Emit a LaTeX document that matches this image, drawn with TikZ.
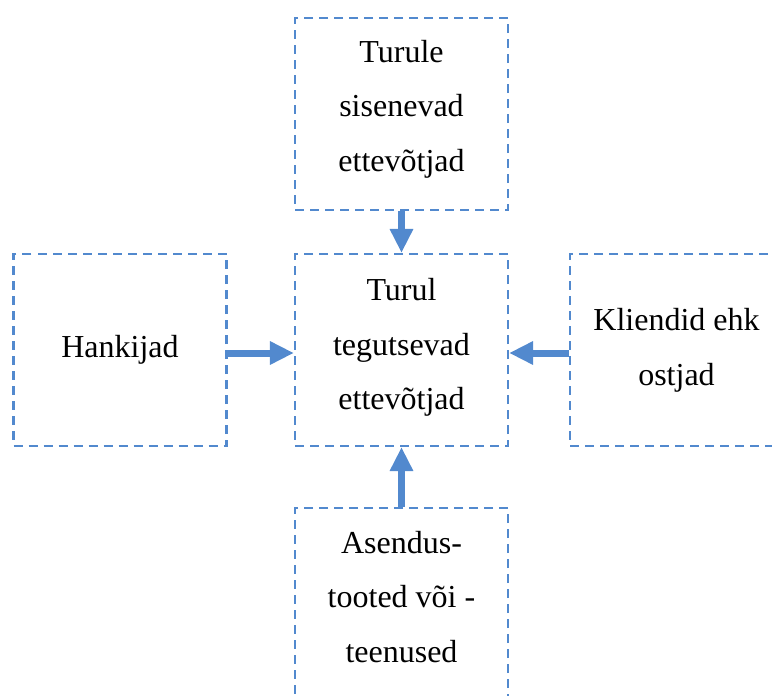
\documentclass[tikz,border=0pt]{standalone}
\usepackage{fontspec}
\setmainfont{Liberation Serif}
\usetikzlibrary{arrows.meta}

\definecolor{boxblue}{RGB}{82,137,206}

\tikzset{
	forcebox/.style={draw=boxblue, line width=1.6pt, dash pattern=on 6.75pt off 4.5pt,
		minimum width=159.75pt, minimum height=144pt, align=center,
		font=\fontsize{24}{41}\selectfont},
	pusharrow/.style={draw=boxblue, line width=5.25pt,
		-{Triangle[length=18pt, width=16.5pt]}}
}

\begin{document}
\begin{tikzpicture}[x=0.75pt, y=-0.75pt]
		% Fix the page size and cut off whatever runs over
		\useasboundingbox (0,0) rectangle (772,696);
		\clip (0,0) rectangle (772,696);
		
		% Centre column and middle row
		\def\colX{401.5}
		\def\rowY{350}
		
		% The five boxes (text depth lifts the lines a little)
		\node[forcebox, text depth=9pt] (mid) at (\colX,\rowY) {Turul\\tegutsevad\\ettevõtjad};
		\node[forcebox, text depth=12.5pt] (entrants) at (\colX,114) {Turule\\sisenevad\\ettevõtjad};
		\node[forcebox] (suppliers) at (120,\rowY) {Hankijad};
		\node[forcebox] (buyers) at (676.5,\rowY) {Kliendid ehk\\ostjad};
		\node[forcebox, text depth=11pt] (substitutes) at (\colX,604) {Asendus-\\tooted või -\\teenused};
		
		% Arrows pointing into the middle box
		\draw[pusharrow] (entrants) -- (mid);
		\draw[pusharrow] ([yshift=-2.25pt]suppliers.east) -- ([yshift=-2.25pt]mid.west);
		\draw[pusharrow] ([yshift=-2.25pt]buyers.west) -- ([yshift=-2.25pt]mid.east);
		\draw[pusharrow] (substitutes) -- (mid);
	\end{tikzpicture}
\end{document}
